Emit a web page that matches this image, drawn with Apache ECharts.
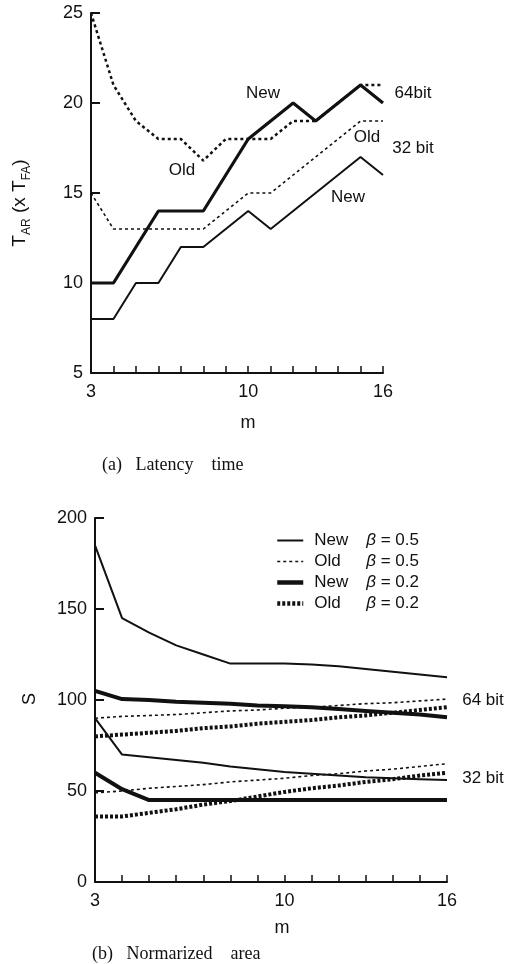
<!DOCTYPE html>
<html>
<head>
<meta charset="utf-8">
<script src="https://cdn.jsdelivr.net/npm/echarts@6/dist/echarts.min.js"></script>
<style>
  html, body { margin: 0; padding: 0; background: #fff; }
  #main { width: 510px; height: 964px; }
</style>
</head>
<body>
<div id="main"></div>
<script>
// m = 3 .. 16
var mValues = [3, 4, 5, 6, 7, 8, 9, 10, 11, 12, 13, 14, 15, 16];
var mTickLabels = [3, 10, 16];

// (a) latency time, T_AR (x T_FA)
var latNew64 = [10, 10, 12, 14, 14, 14, 16, 18, 19, 20, 19, 20, 21, 20];
var latOld64 = [25, 21, 19, 18, 18, 16.8, 18, 18, 18, 19, 19, 20, 21, 21];
var latNew32 = [8, 8, 10, 10, 12, 12, 13, 14, 13, 14, 15, 16, 17, 16];
var latOld32 = [15, 13, 13, 13, 13, 13, 14, 15, 15, 16, 17, 18, 19, 19];

// (b) normalized area S
var areaNew05_64 = [185, 145, 137, 130, 125, 120, 120, 120, 119.5, 118.5, 117, 115.5, 114, 112.5];
var areaOld05_64 = [90, 91, 91.5, 92, 93, 94, 94.5, 95.5, 96, 97, 98, 98.5, 99.5, 100.5];
var areaNew02_64 = [105, 100.5, 100, 99, 98.5, 98, 97, 96.5, 96, 95, 94, 93, 92, 90.5];
var areaOld02_64 = [80, 81, 82, 83, 84.5, 85.5, 87, 88, 89, 90.5, 91.5, 93, 94.5, 96];
var areaNew05_32 = [90, 70, 68.5, 67, 65.5, 63.5, 62, 60.5, 59.5, 58.5, 57.5, 57, 56.5, 56];
var areaOld05_32 = [49, 50, 51.5, 52.5, 53.5, 55, 56, 57, 58.5, 59.5, 61, 62, 63.5, 65];
var areaNew02_32 = [60, 51, 45, 45, 45, 45, 45, 45, 45, 45, 45, 45, 45, 45];
var areaOld02_32 = [36, 36, 38, 40, 42.5, 44.5, 47, 49.5, 51.5, 53, 55, 56.5, 58.5, 60];

var legendNames = ['New  \u03b2 = 0.5', 'Old  \u03b2 = 0.5', 'New  \u03b2 = 0.2', 'Old  \u03b2 = 0.2'];

function pairs(ys) {
  return mValues.map(function (m, i) { return [m, ys[i]]; });
}

var sans = 'Liberation Sans, Arial, sans-serif';
var serif = 'Liberation Serif, Times New Roman, serif';

function xAxisFor(gridIndex) {
  return {
    gridIndex: gridIndex, type: 'value', min: 3, max: 16, interval: 1,
    axisLine: { lineStyle: { color: '#111', width: 2 } },
    axisTick: { inside: true, length: 7, lineStyle: { color: '#111', width: 1.5 } },
    splitLine: { show: false },
    axisLabel: {
      color: '#111', fontFamily: sans, fontSize: 18, margin: 10,
      formatter: function (v) { return mTickLabels.indexOf(v) >= 0 ? String(v) : ''; }
    }
  };
}

function yAxisFor(gridIndex, min, max, interval) {
  return {
    gridIndex: gridIndex, type: 'value', min: min, max: max, interval: interval,
    axisLine: { show: true, lineStyle: { color: '#111', width: 2 } },
    axisTick: { show: true, inside: true, length: 9, lineStyle: { color: '#111', width: 2 } },
    splitLine: { show: false },
    axisLabel: { color: '#111', fontFamily: sans, fontSize: 18, margin: 8 }
  };
}

function line(name, ys, axis, width, dash) {
  return {
    name: name, type: 'line', xAxisIndex: axis, yAxisIndex: axis,
    data: pairs(ys), symbol: 'none', silent: true, animation: false,
    lineStyle: { color: '#111', width: width, type: dash ? dash : 'solid' },
    itemStyle: { color: '#111' }
  };
}

var thinDot = [3, 3];
var thickDot = [3, 2];

function label(text, x, y, size, font) {
  return { type: 'text', x: x, y: y,
    style: { text: text, font: (size || 17) + 'px ' + (font || sans), fill: '#111', align: 'center', verticalAlign: 'middle' } };
}

var legendWidths = [2, 1.6, 4.5, 4.5];
var legendDashes = ['solid', thinDot, 'solid', thickDot];

var chart = echarts.init(document.getElementById('main'));
chart.setOption({
  backgroundColor: '#fff',
  grid: [
    { left: 91, top: 13, width: 292, height: 360 },
    { left: 95, top: 518, width: 352, height: 364 }
  ],
  xAxis: [xAxisFor(0), xAxisFor(1)],
  yAxis: [yAxisFor(0, 5, 25, 5), yAxisFor(1, 0, 200, 50)],
  legend: {
    data: legendNames.map(function (n, i) {
      return { name: n, lineStyle: { color: '#111', width: legendWidths[i], type: legendDashes[i] } };
    }),
    orient: 'vertical',
    left: 270, top: 527,
    itemWidth: 26, itemHeight: 12, itemGap: 4,
    itemStyle: { opacity: 0 },
    selectedMode: false,
    textStyle: {
      color: '#111', fontFamily: sans, fontSize: 17,
      rich: {
        a: { width: 52, fontFamily: sans, fontSize: 17, color: '#111', padding: [0, 0, 0, 6] },
        b: { fontFamily: sans, fontSize: 17, color: '#111' },
        g: { fontFamily: sans, fontSize: 17, fontStyle: 'italic', color: '#111' }
      }
    },
    formatter: function (n) {
      var p = n.split('  ');
      return '{a|' + p[0] + '}{g|\u03b2}{b|' + p[1].slice(1) + '}';
    }
  },
  graphic: [
    { type: 'text', x: 20, y: 203, rotation: Math.PI / 2,
      style: {
        text: '{a|T}{s|AR}{a| (x T}{s|FA}{a|)}',
        align: 'center', verticalAlign: 'middle', fill: '#111',
        rich: {
          a: { fontFamily: sans, fontSize: 19, lineHeight: 26, fill: '#111' },
          s: { fontFamily: sans, fontSize: 12, lineHeight: 10, verticalAlign: 'bottom', fill: '#111' }
        }
      } },
    label('m', 248, 423, 18),
    { type: 'text', x: 102, y: 465, style: { text: '(a)   Latency    time', font: '18px ' + serif, fill: '#111', align: 'left', verticalAlign: 'middle' } },
    label('New', 263, 93),
    label('Old', 182, 170),
    label('64bit', 413, 93),
    label('Old', 367, 137),
    label('32 bit', 413, 148),
    label('New', 348, 197),
    { type: 'text', x: 30, y: 699, rotation: Math.PI / 2, style: { text: 'S', font: '18px ' + sans, fill: '#111', align: 'center', verticalAlign: 'middle' } },
    label('m', 282, 928, 18),
    { type: 'text', x: 92, y: 954, style: { text: '(b)   Normarized    area', font: '18px ' + serif, fill: '#111', align: 'left', verticalAlign: 'middle' } },
    label('64 bit', 483, 700),
    label('32 bit', 483, 778)
  ],
  series: [
    line('lat new 64', latNew64, 0, 3.2),
    line('lat old 64', latOld64, 0, 2.5, thinDot),
    line('lat new 32', latNew32, 0, 2),
    line('lat old 32', latOld32, 0, 1.6, thinDot),

    line(legendNames[0], areaNew05_64, 1, 2),
    line(legendNames[1], areaOld05_64, 1, 1.6, thinDot),
    line(legendNames[2], areaNew02_64, 1, 4),
    line(legendNames[3], areaOld02_64, 1, 4, thickDot),
    line(legendNames[0], areaNew05_32, 1, 2),
    line(legendNames[1], areaOld05_32, 1, 1.6, thinDot),
    line(legendNames[2], areaNew02_32, 1, 4),
    line(legendNames[3], areaOld02_32, 1, 4, thickDot)
  ]
});
</script>
</body>
</html>
